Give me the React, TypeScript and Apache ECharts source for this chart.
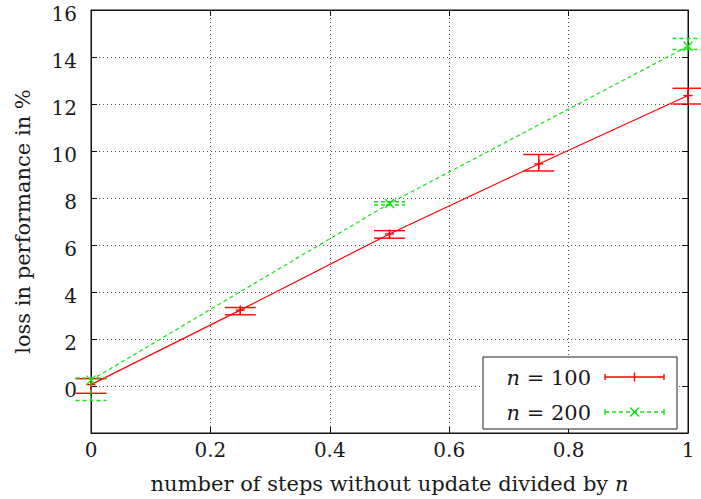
import React, { useEffect, useRef } from "react";
import * as echarts from "echarts";

// ---- data (gnuplot "errorlines") ----
const redX = [0, 0.25, 0.5, 0.75, 1];
const redMean = [0.06, 3.23, 6.47, 9.45, 12.36];
const redLow = [-0.31, 3.03, 6.29, 9.15, 12.0];
const redHigh = [0.31, 3.34, 6.61, 9.85, 12.67];

const greenX = [0, 0.5, 1];
const greenMean = [0.25, 7.77, 14.46];
const greenLow = [-0.62, 7.7, 14.32];
const greenHigh = [0.34, 7.84, 14.79];

const xTicks = [0, 0.2, 0.4, 0.6, 0.8, 1];
const yTicks = [0, 2, 4, 6, 8, 10, 12, 14, 16];

const RED = "#ff0000";
const GREEN = "#11e611";
const FONT = "DejaVu Serif";
const TXT = "#1a1a1a";

function errSeries(xs: number[], m: number[], lo: number[], hi: number[], color: string, dashed: boolean, marker: "plus" | "cross") {
  const data = xs.map((x, i) => [x, m[i], lo[i], hi[i]]);
  return {
    type: "custom",
    xAxisIndex: 0,
    yAxisIndex: 0,
    clip: false,
    data,
    z: 5,
    renderItem: (_p: any, api: any) => {
      const x = api.value(0);
      const pm = api.coord([x, api.value(1)]);
      const pl = api.coord([x, api.value(2)]);
      const ph = api.coord([x, api.value(3)]);
      const cap = 15.5;
      const style: any = { stroke: color, lineWidth: 1.4, fill: "none" };
      if (dashed) style.lineDash = [4, 3];
      const mstyle: any = { stroke: color, lineWidth: 1.4 };
      const children: any[] = [
        { type: "line", shape: { x1: pl[0], y1: pl[1], x2: ph[0], y2: ph[1] }, style },
        { type: "line", shape: { x1: ph[0] - cap, y1: ph[1], x2: ph[0] + cap, y2: ph[1] }, style },
        { type: "line", shape: { x1: pl[0] - cap, y1: pl[1], x2: pl[0] + cap, y2: pl[1] }, style },
      ];
      const s = 4.5;
      if (marker === "plus") {
        children.push({ type: "line", shape: { x1: pm[0] - s, y1: pm[1], x2: pm[0] + s, y2: pm[1] }, style: mstyle });
        children.push({ type: "line", shape: { x1: pm[0], y1: pm[1] - s, x2: pm[0], y2: pm[1] + s }, style: mstyle });
      } else {
        children.push({ type: "line", shape: { x1: pm[0] - s, y1: pm[1] - s, x2: pm[0] + s, y2: pm[1] + s }, style: mstyle });
        children.push({ type: "line", shape: { x1: pm[0] - s, y1: pm[1] + s, x2: pm[0] + s, y2: pm[1] - s }, style: mstyle });
      }
      return { type: "group", children };
    },
  };
}

function legendGraphic() {
  const rows = [
    { label: "100", y: 377, color: RED, dashed: false, marker: "plus" },
    { label: "200", y: 412, color: GREEN, dashed: true, marker: "cross" },
  ];
  const els: any[] = [
    {
      type: "rect",
      shape: { x: 483, y: 357, width: 194, height: 72 },
      style: { fill: "#fff", stroke: "#222", lineWidth: 1 },
      z: 100,
    },
  ];
  rows.forEach((r) => {
    els.push({
      type: "text",
      x: 591,
      y: r.y + 1,
      z: 101,
      style: {
        text: "{i|n} {t|=} {t|" + r.label + "}",
        align: "right",
        verticalAlign: "middle",
        fontFamily: FONT,
        fontSize: 21,
        fill: TXT,
        rich: {
          i: { fontStyle: "italic", fontFamily: FONT, fontSize: 21, fill: TXT },
          t: { fontFamily: FONT, fontSize: 21, fill: TXT },
        },
      },
    });
    const st: any = { stroke: r.color, lineWidth: 1.4 };
    if (r.dashed) st.lineDash = [4, 3];
    const x1 = 605, x2 = 664, cx = (x1 + x2) / 2;
    els.push({ type: "line", z: 101, shape: { x1, y1: r.y, x2, y2: r.y }, style: st });
    els.push({ type: "line", z: 101, shape: { x1, y1: r.y - 3, x2: x1, y2: r.y + 3 }, style: { stroke: r.color, lineWidth: 1.4 } });
    els.push({ type: "line", z: 101, shape: { x1: x2, y1: r.y - 3, x2, y2: r.y + 3 }, style: { stroke: r.color, lineWidth: 1.4 } });
    const s = 4.5;
    if (r.marker === "plus") {
      els.push({ type: "line", z: 101, shape: { x1: cx, y1: r.y - s, x2: cx, y2: r.y + s }, style: { stroke: r.color, lineWidth: 1.4 } });
    } else {
      els.push({ type: "line", z: 101, shape: { x1: cx - s, y1: r.y - s, x2: cx + s, y2: r.y + s }, style: { stroke: r.color, lineWidth: 1.4 } });
      els.push({ type: "line", z: 101, shape: { x1: cx - s, y1: r.y + s, x2: cx + s, y2: r.y - s }, style: { stroke: r.color, lineWidth: 1.4 } });
    }
  });
  return els;
}

export default function App() {
  const ref = useRef<HTMLDivElement>(null);
  useEffect(() => {
    if (!ref.current) return;
    const chart = echarts.init(ref.current, null, { renderer: "svg" });
    const tickStyle = { show: true, inside: true, length: 6, lineStyle: { color: "#111", width: 1 } };
    const lineStyleAxis = { show: true, onZero: false, lineStyle: { color: "#111", width: 1 } };
    const option: any = {
      animation: false,
      backgroundColor: "#fff",
      textStyle: { fontFamily: FONT },
      grid: { left: 91, right: 13, top: 10, bottom: 63, show: true, borderColor: "#111", borderWidth: 1 },
      xAxis: [
        {
          type: "value",
          min: 0,
          max: 1,
          interval: 0.2,
          position: "bottom",
          name: "number of steps without update divided by {i|n}",
          nameLocation: "middle",
          nameGap: 40,
          nameTextStyle: {
            fontFamily: FONT,
            fontSize: 21,
            color: TXT,
            rich: { i: { fontStyle: "italic", fontFamily: FONT, fontSize: 21, color: TXT } },
          },
          axisLine: lineStyleAxis,
          axisTick: tickStyle,
          axisLabel: {
            fontFamily: FONT,
            fontSize: 20,
            color: TXT,
            margin: 7,
            formatter: (v: number) => {
              const t = xTicks.find((k) => Math.abs(k - v) < 1e-9);
              return t === undefined ? "" : String(t);
            },
          },
          splitLine: { show: true, lineStyle: { color: "#555", type: [1, 3], width: 1 } },
        },
        {
          type: "value",
          min: 0,
          max: 1,
          interval: 0.2,
          position: "top",
          axisLine: lineStyleAxis,
          axisTick: tickStyle,
          axisLabel: { show: false },
          splitLine: { show: false },
        },
      ],
      yAxis: [
        {
          type: "value",
          min: -2,
          max: 16,
          interval: 2,
          position: "left",
          name: "loss in performance in %",
          nameLocation: "middle",
          nameGap: 58,
          nameTextStyle: { fontFamily: FONT, fontSize: 21, color: TXT },
          axisLine: lineStyleAxis,
          axisTick: tickStyle,
          axisLabel: {
            fontFamily: FONT,
            fontSize: 20,
            color: TXT,
            margin: 14,
            formatter: (v: number) => (yTicks.indexOf(v) >= 0 ? "{a|" + String(v) + "}" : ""),
            rich: {
              a: { fontFamily: FONT, fontSize: 20, color: TXT, padding: [8, 0, 0, 0] },
            },
          },
          splitLine: { show: true, lineStyle: { color: "#555", type: [1, 3], width: 1 } },
        },
        {
          type: "value",
          min: -2,
          max: 16,
          interval: 2,
          position: "right",
          axisLine: lineStyleAxis,
          axisTick: tickStyle,
          axisLabel: { show: false },
          splitLine: { show: false },
        },
      ],
      series: [
        {
          type: "line",
          data: redX.map((x, i) => [x, redMean[i]]),
          showSymbol: false,
          lineStyle: { color: RED, width: 1.2 },
          z: 3,
        },
        {
          type: "line",
          data: greenX.map((x, i) => [x, greenMean[i]]),
          showSymbol: false,
          lineStyle: { color: GREEN, width: 1.2, type: [4, 3] },
          z: 3,
        },
        errSeries(redX, redMean, redLow, redHigh, RED, false, "plus"),
        errSeries(greenX, greenMean, greenLow, greenHigh, GREEN, true, "cross"),
      ],
      graphic: legendGraphic(),
    };
    chart.setOption(option);
    return () => chart.dispose();
  }, []);
  return <div ref={ref} style={{ width: 701, height: 499, position: "absolute", left: 0, top: 0 }} />;
}
